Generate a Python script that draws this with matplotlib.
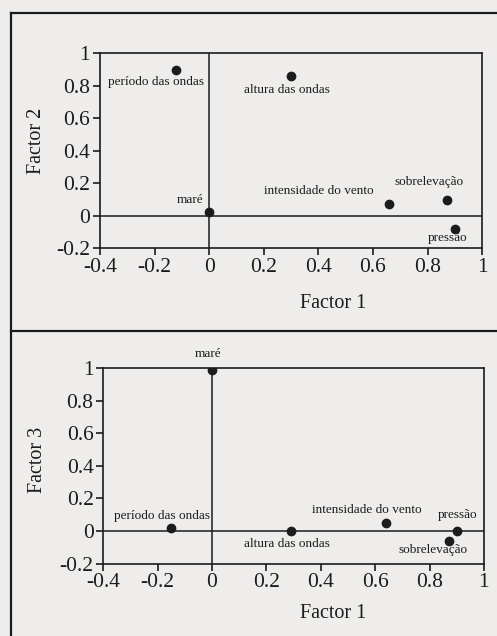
import matplotlib
matplotlib.use('Agg')
import matplotlib.pyplot as plt
from matplotlib.lines import Line2D

# factor loadings
names = ['período das ondas', 'altura das ondas', 'maré',
         'intensidade do vento', 'sobrelevação', 'pressão']
f1_top = [-0.12, 0.30, 0.0, 0.66, 0.87, 0.90]
f2 = [0.90, 0.86, 0.025, 0.075, 0.10, -0.08]
f1_bot = [-0.15, 0.29, 0.0, 0.64, 0.87, 0.90]
f3 = [0.02, 0.0, 0.985, 0.05, -0.06, 0.0]

xticks = [-0.4, -0.2, 0, 0.2, 0.4, 0.6, 0.8, 1]
yticks = [-0.2, 0, 0.2, 0.4, 0.6, 0.8, 1]

# label offsets (points) relative to each marker
off_top = [(-15, -9), (-3, -10), (-14, 8.5), (-51, 9), (-13, 12.5), (-5, -6.5)]
off_bot = [(-7, 8.6), (-3, -9), (-3, 11.5), (-14, 9), (-11, -6.5), (0.5, 11.5)]

bg = '#eeedeb'
ink = '#1c1c1c'
plt.rcParams['font.family'] = 'Liberation Serif'

fig = plt.figure(figsize=(4.97, 6.36), dpi=100)
fig.patch.set_facecolor(bg)


def panel(ax, xs, ys, offs, ylab, xlab_pos, ylab_pos):
    ax.set_facecolor(bg)
    ax.axhline(0, color=ink, lw=1.1)
    ax.axvline(0, color=ink, lw=1.1)
    ax.plot(xs, ys, 'o', color=ink, ms=6, zorder=3)
    for n, x, y, o in zip(names, xs, ys, offs):
        ax.annotate(n, (x, y), xytext=o, textcoords='offset points',
                    ha='center', va='center', fontsize=9.5, color=ink)
    ax.set_xlim(-0.4, 1)
    ax.set_ylim(-0.2, 1)
    ax.set_xticks(xticks)
    ax.set_yticks(yticks)
    ax.set_xticklabels(['%g' % t for t in xticks])
    ax.set_yticklabels(['%g' % t for t in yticks])
    ax.tick_params(direction='out', length=5, width=1.2, colors=ink,
                   labelsize=15.5, pad=2)
    for s in ax.spines.values():
        s.set_linewidth(1.2)
        s.set_color(ink)
    ax.set_xlabel('Factor 1', fontsize=14.5, color=ink)
    ax.set_ylabel(ylab, fontsize=14.5, color=ink)
    ax.xaxis.set_label_coords(*xlab_pos)
    ax.xaxis.label.set_verticalalignment('center')
    ax.yaxis.set_label_coords(*ylab_pos)
    ax.yaxis.label.set_verticalalignment('center')


ax1 = fig.add_axes([0.2012, 0.6096, 0.769, 0.3066])
panel(ax1, f1_top, f2, off_top, 'Factor 2', (0.609, -0.281), (-0.165, 0.55))

ax2 = fig.add_axes([0.2078, 0.1137, 0.766, 0.3077])
panel(ax2, f1_bot, f3, off_bot, 'Factor 3', (0.603, -0.252), (-0.172, 0.531))

# outer frame of the scanned figure
for xs, ys in [([0.0231, 0.0231], [0, 0.9796]),
               ([0.0231, 1], [0.9796, 0.9796]),
               ([0.0231, 1], [0.4796, 0.4796])]:
    fig.add_artist(Line2D(xs, ys, transform=fig.transFigure, color=ink, lw=1.6))

plt.savefig('out.png', dpi=100, facecolor=bg)
